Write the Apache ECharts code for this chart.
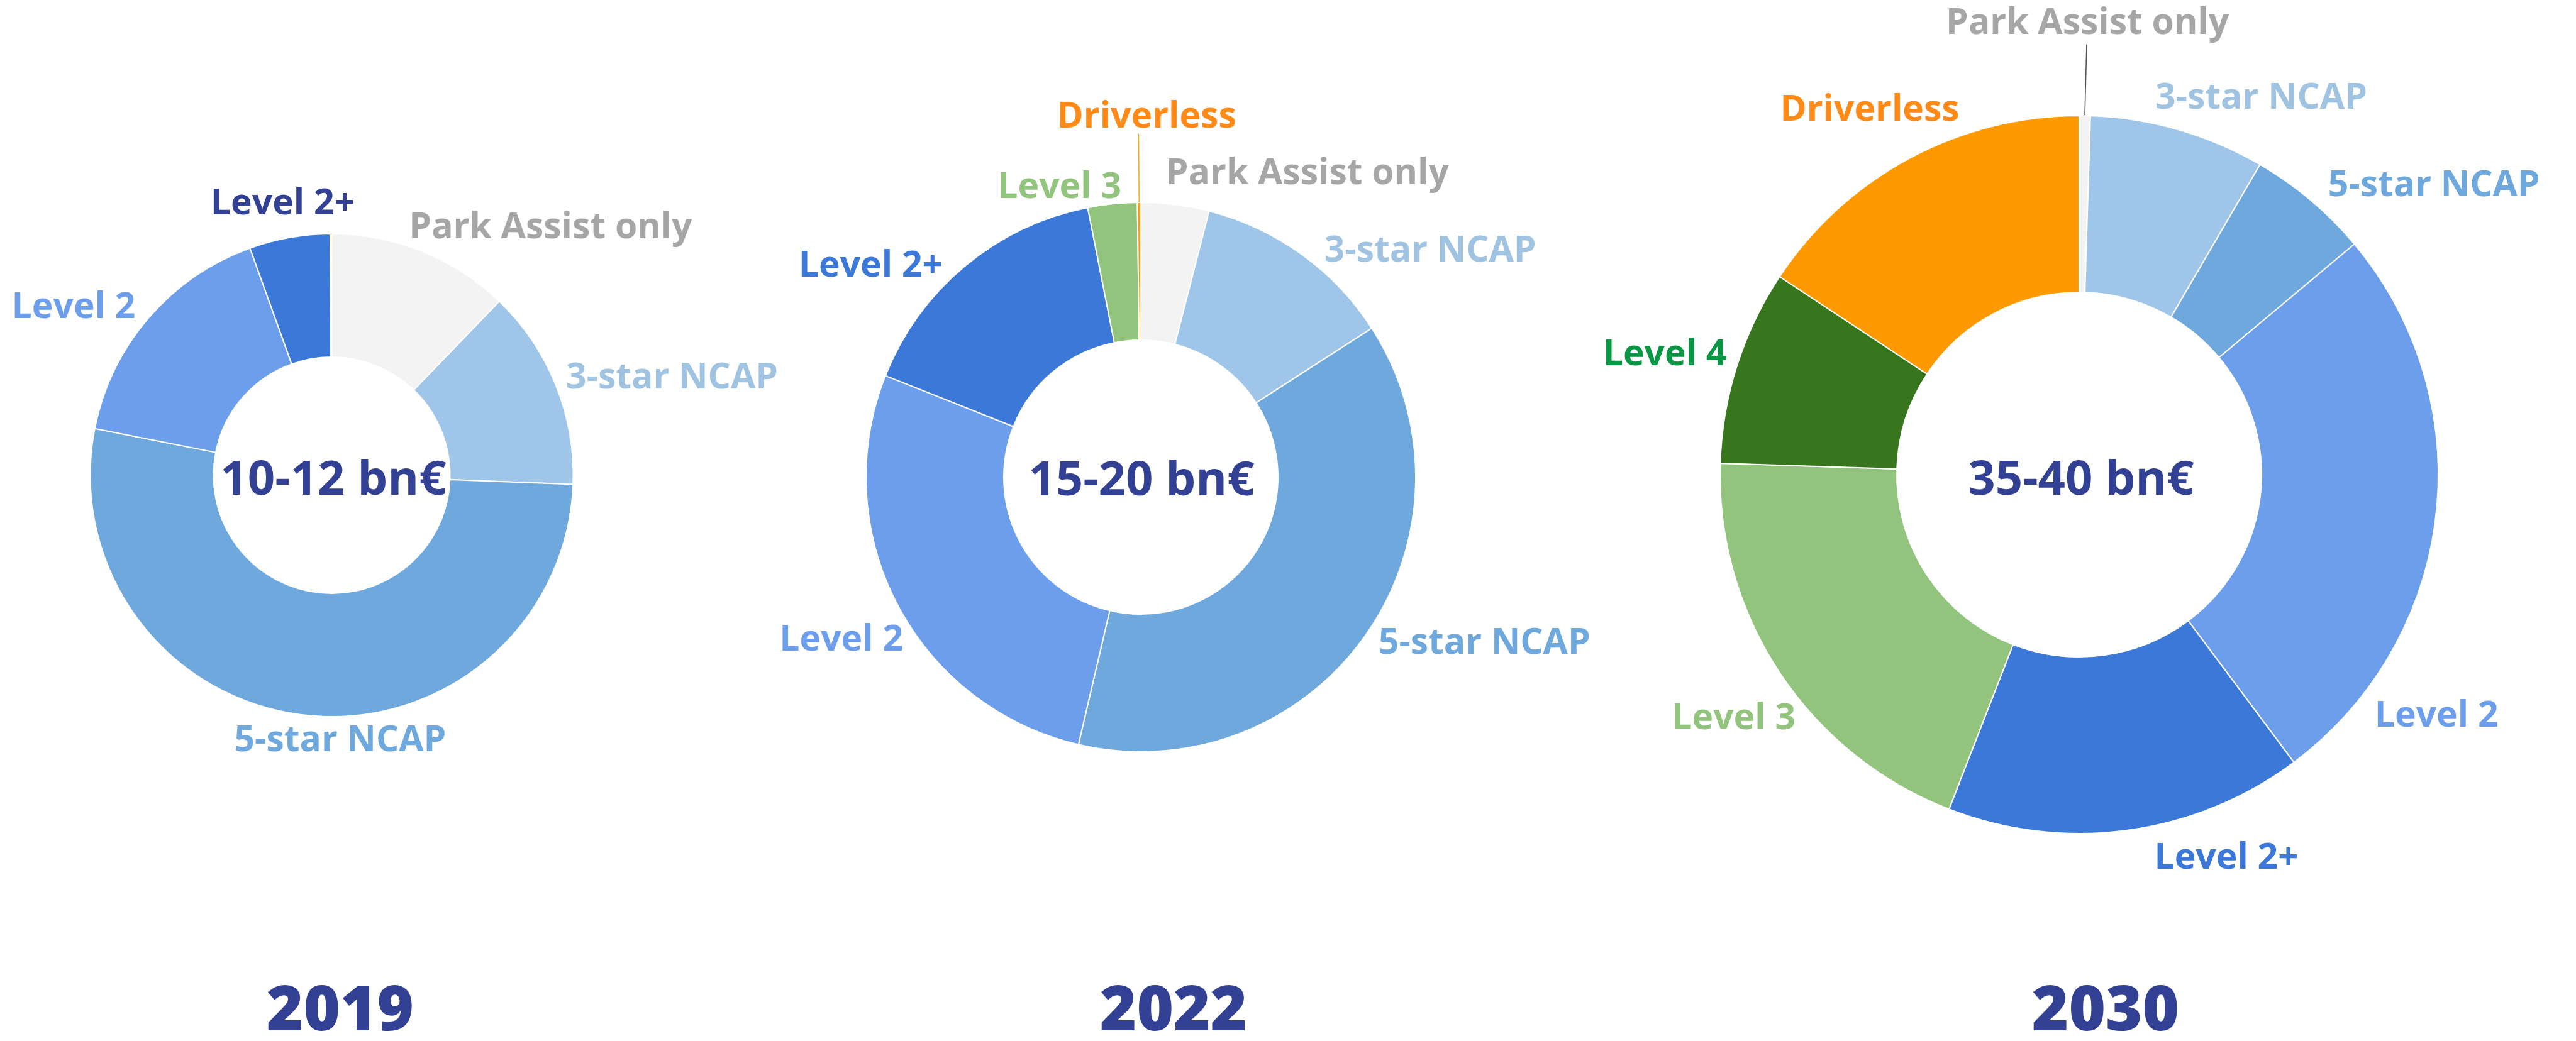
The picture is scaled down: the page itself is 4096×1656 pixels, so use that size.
<!DOCTYPE html>
<html>
<head>
<meta charset="utf-8">
<title>ADAS market by segment</title>
<script src="https://cdn.jsdelivr.net/npm/echarts@6/dist/echarts.min.js"></script>
<style>
  html, body { margin: 0; padding: 0; background: #ffffff; }
  #chart { width: 4096px; height: 1656px; }
</style>
</head>
<body>
<div id="chart"></div>
<script>
// ---- data -------------------------------------------------------------
const segments = ['Park Assist only', '3-star NCAP', '5-star NCAP', 'Level 2', 'Level 2+', 'Level 3', 'Level 4', 'Driverless'];
const years = ['2019', '2022', '2030'];
const marketTotals = ['10-12 bn€', '15-20 bn€', '35-40 bn€'];
// share of market value per segment (%)
const share2019 = [12.2, 13.4, 52.5, 16.4, 5.4, 0, 0, 0.1];
const share2022 = [4.0, 11.9, 37.8, 27.4, 15.9, 2.9, 0, 0.2];
const share2030 = [0.5, 7.9, 5.5, 25.9, 16.1, 19.6, 8.8, 15.7];
const shares = [share2019, share2022, share2030];

// ---- styling ------------------------------------------------------------
const FONT = '"Open Sans", "Noto Sans", sans-serif';
const NAVY = '#334195';
const sliceColors = ['#f3f3f3', '#9fc5e8', '#6fa8dc', '#6d9eeb', '#3c78d8', '#93c47d', '#38761d', '#ff9900'];
const labelColors = ['#a6a6a6', '#9fc3e0', '#6fa8dc', '#6d9eeb', '#3c78d8', '#93c47d', '#0a9645', '#ff8a17'];
const labelColorOverride = [{ 4: NAVY }, {}, {}];

// donut geometry (px)
const donuts = [
  { center: [527.5, 756], inner: 188, outer: 384, totalPos: [530, 765], yearPos: [541, 1611] },
  { center: [1814, 759], inner: 218, outer: 437, totalPos: [1815, 766], yearPos: [1866, 1611] },
  { center: [3306, 755], inner: 290, outer: 571, totalPos: [3309, 765], yearPos: [3348, 1611] }
];

// label centres, in units of the outer radius from the donut centre
const labelSpots = [
  [[0.906, -1.024], [1.409, -0.401], [0.035, 1.101], [-1.069, -0.694], [-0.203, -1.122], null, null, null],
  [[0.606, -1.104], [1.053, -0.822], [1.250, 0.605], [-1.090, 0.594], [-0.983, -0.768], [-0.296, -1.054], null, [0.021, -1.310]],
  [[0.023, -1.256], [0.507, -1.047], [0.988, -0.804], [0.995, 0.673], [0.410, 1.070], [-0.962, 0.681], [-1.154, -0.333], [-0.583, -1.015]]
];

// leader lines: end point (radius units) and colour
const leaders = [
  {},
  { 7: { end: [-0.008, -1.25], color: '#f4b400' } },
  { 0: { end: [0.021, -1.199], color: '#555555' } }
];

function buildData(ci) {
  const out = [];
  shares[ci].forEach(function (v, i) {
    if (v <= 0) return;
    const spot = labelSpots[ci][i];
    const leader = leaders[ci][i];
    out.push({
      name: segments[i],
      value: v,
      segIndex: i,
      itemStyle: { color: sliceColors[i] },
      label: {
        show: !!spot,
        color: labelColorOverride[ci][i] || labelColors[i]
      },
      labelLine: leader
        ? { show: true, smooth: false, lineStyle: { color: leader.color, width: 1.6 } }
        : { show: false }
    });
  });
  return out;
}

const series = donuts.map(function (d, ci) {
  const data = buildData(ci);
  return {
    type: 'pie',
    center: d.center,
    radius: [d.inner, d.outer],
    startAngle: 90,
    clockwise: true,
    avoidLabelOverlap: false,
    silent: true,
    animation: false,
    itemStyle: { borderColor: '#ffffff', borderWidth: 2 },
    label: {
      position: 'outside',
      formatter: '{b}',
      fontFamily: FONT,
      fontWeight: 700,
      fontSize: 57
    },
    labelLine: { length: 10, length2: 10 },
    labelLayout: function (params) {
      const item = data[params.dataIndex];
      const spot = labelSpots[ci][item.segIndex];
      if (!spot) return {};
      const cx = d.center[0], cy = d.center[1], r = d.outer;
      const res = {
        x: cx + spot[0] * r,
        y: cy + spot[1] * r,
        align: 'center',
        verticalAlign: 'middle'
      };
      const leader = leaders[ci][item.segIndex];
      if (leader && params.labelLinePoints) {
        const start = params.labelLinePoints[0];
        const end = [cx + leader.end[0] * r, cy + leader.end[1] * r];
        res.labelLinePoints = [start, end, end];
      }
      return res;
    },
    data: data
  };
});

const graphics = [];
donuts.forEach(function (d, ci) {
  graphics.push({
    type: 'text', x: d.totalPos[0], y: d.totalPos[1], silent: true,
    style: { text: marketTotals[ci], fill: NAVY, font: '700 76px ' + FONT, align: 'center', verticalAlign: 'middle' }
  });
  graphics.push({
    type: 'text', x: d.yearPos[0], y: d.yearPos[1], silent: true,
    style: { text: years[ci], fill: NAVY, font: '800 100px ' + FONT, align: 'center', verticalAlign: 'middle' }
  });
});

const chart = echarts.init(document.getElementById('chart'), null, { renderer: 'canvas' });
chart.setOption({
  backgroundColor: '#ffffff',
  animation: false,
  series: series,
  graphic: graphics
});
</script>
</body>
</html>
